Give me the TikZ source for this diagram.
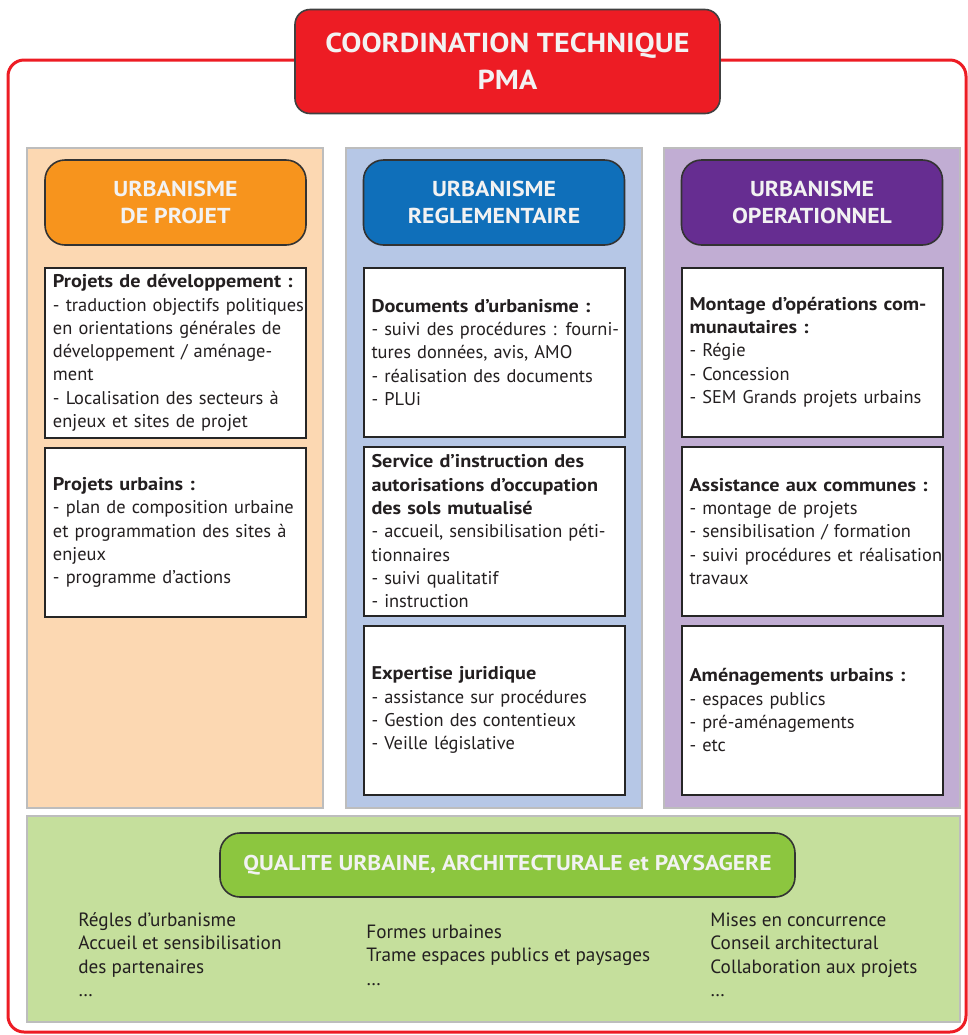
\documentclass[tikz,border=0pt]{standalone}
\usepackage{fontspec}
\setmainfont{PT Sans}
\newfontfamily\widefont[FakeStretch=1.1]{PT Sans}
\usepackage{xcolor}
\usetikzlibrary{positioning}

\definecolor{pmaRed}{HTML}{ED1C24}
\definecolor{projOrange}{HTML}{F7941D}
\definecolor{projBg}{HTML}{FCD8B2}
\definecolor{regBlue}{HTML}{0F6FBA}
\definecolor{regBg}{HTML}{B6C7E6}
\definecolor{opPurple}{HTML}{662D91}
\definecolor{opBg}{HTML}{C1ADD3}
\definecolor{qualGreen}{HTML}{8CC63F}
\definecolor{qualBg}{HTML}{C5DF9C}
\definecolor{edgeGray}{HTML}{BDBDBD}
\definecolor{inkDark}{HTML}{231F20}

\newcommand{\boxtitle}[1]{{\widefont\bfseries #1}}

\begin{document}
\begin{tikzpicture}[x=0.5pt,y=-0.5pt,font=\fontsize{9.2}{11.65}\selectfont,
  panel/.style={draw=edgeGray,line width=1pt,inner sep=0pt,minimum width=148pt,minimum height=330pt},
  head/.style={draw=black!80,line width=0.8pt,rounded corners=10pt,align=center,
    minimum width=130.5pt,minimum height=42.5pt,text=white!95!black,
    font=\widefont\bfseries\fontsize{10.8}{13.5}\selectfont},
  item/.style={draw=black!85,line width=1pt,fill=white,align=left,text=inkDark,
    text width=122.5pt,inner xsep=4pt,minimum height=84.5pt,
    execute at begin node={\rightskip=-8pt plus 1fil}},
  sub/.style={anchor=north west,inner sep=0pt,align=left,text=inkDark,
    font=\fontsize{9.6}{11.75}\selectfont}]
  \useasboundingbox (0,0) rectangle (968,1035);
  % cadre rouge
  \draw[pmaRed,line width=1.5pt,rounded corners=8pt] (8,60) rectangle (966,1032);
  \node[draw=black!75,line width=0.8pt,fill=pmaRed,rounded corners=7.5pt,align=center,
    minimum width=212.5pt,minimum height=52pt,text=white!95!black,
    font=\widefont\bfseries\fontsize{13.7}{18.5}\selectfont] (pmaTitle) at (507.5,61.5)
    {COORDINATION TECHNIQUE\\PMA};
  % colonnes
  \node[panel,fill=projBg] (colProjet) at (175,478) {};
  \node[panel,fill=regBg] (colRegl) at (493.5,478) {};
  \node[panel,fill=opBg] (colOper) at (812,478) {};
  % urbanisme de projet
  \node[head,fill=projOrange] (hProjet) at (175.5,202.5) {URBANISME\\DE PROJET};
  \node[item,below=10.5pt of hProjet] (projDev) {\boxtitle{Projets de développement~:}\\- traduction objectifs politiques\\en orientations générales de\\développement / aménage-\\ment\\- Localisation des secteurs à\\enjeux et sites de projet};
  \node[item,below=4pt of projDev] (projUrb) {\boxtitle{Projets urbains~:}\\- plan de composition urbaine\\et programmation des sites à\\enjeux\\- programme d’actions};
  % urbanisme reglementaire
  \node[head,fill=regBlue] (hRegl) at (494,202.5) {URBANISME\\REGLEMENTAIRE};
  \node[item,below=10.5pt of hRegl] (reglDoc) {\boxtitle{Documents d’urbanisme~:}\\- suivi des procédures~: fourni-\\tures données, avis, AMO\\- réalisation des documents\\- PLUi};
  \node[item,below=4pt of reglDoc] (reglAds) {\boxtitle{Service d’instruction des}\\\boxtitle{autorisations d’occupation}\\\boxtitle{des sols mutualisé}\\- accueil, sensibilisation péti-\\tionnaires\\- suivi qualitatif\\- instruction};
  \node[item,below=4pt of reglAds] (reglJur) {\boxtitle{Expertise juridique}\\- assistance sur procédures\\- Gestion des contentieux\\- Veille législative};
  % urbanisme operationnel
  \node[head,fill=opPurple] (hOper) at (812,202.5) {URBANISME\\OPERATIONNEL};
  \node[item,below=10.5pt of hOper] (operMont) {\boxtitle{Montage d’opérations com-}\\\boxtitle{munautaires~:}\\- Régie\\- Concession\\- SEM Grands projets urbains};
  \node[item,below=4pt of operMont] (operComm) {\boxtitle{Assistance aux communes~:}\\- montage de projets\\- sensibilisation / formation\\- suivi procédures et réalisation\\travaux};
  \node[item,below=4pt of operComm] (operAmen) {\boxtitle{Aménagements urbains~:}\\- espaces publics\\- pré-aménagements\\- etc};
  % qualite
  \node[draw=edgeGray,line width=1pt,fill=qualBg,minimum width=466.5pt,minimum height=103pt] (qualPanel) at (493.5,919) {};
  \node[draw=black!80,line width=0.8pt,fill=qualGreen,rounded corners=10pt,
    minimum width=287.5pt,minimum height=32pt,text=white!95!black,
    font=\widefont\bfseries\fontsize{10.7}{14}\selectfont] (qualHead) at (507.5,865)
    {QUALITE URBAINE, ARCHITECTURALE et PAYSAGERE};
  \node[sub] (qualRegles) at (78,912) {Régles d’urbanisme\\Accueil et sensibilisation\\des partenaires\\…};
  \node[sub] (qualFormes) at (366,924) {Formes urbaines\\Trame espaces publics et paysages\\…};
  \node[sub] (qualConseil) at (710,912) {Mises en concurrence\\Conseil architectural\\Collaboration aux projets\\…};
\end{tikzpicture}
\end{document}
